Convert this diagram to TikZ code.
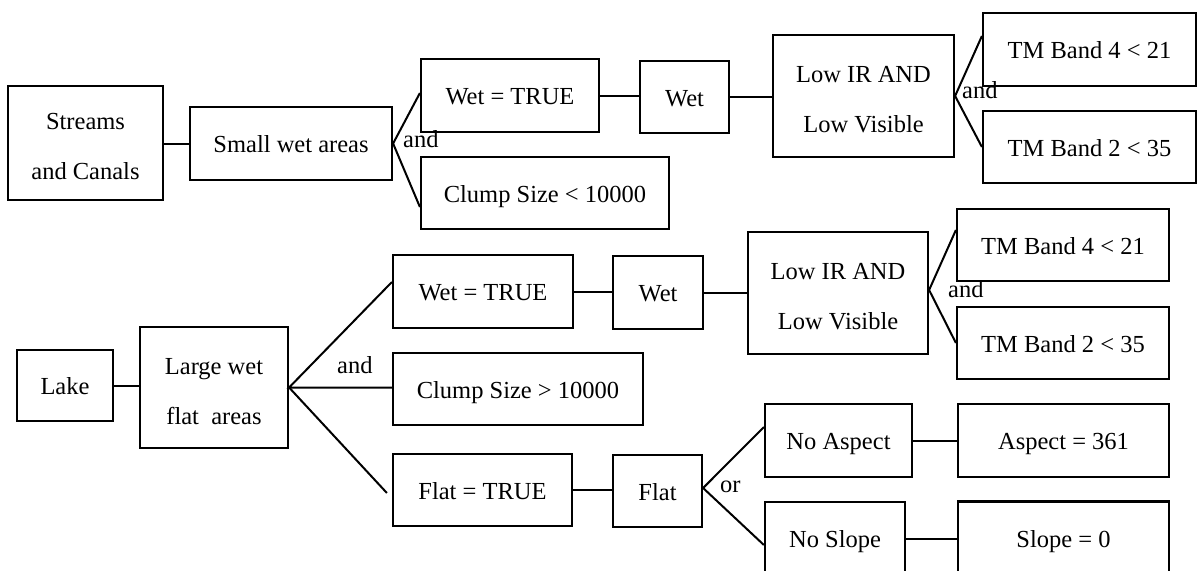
\documentclass[tikz,border=0pt]{standalone}
\usepackage{fontspec}
\setmainfont{Liberation Serif}
\begin{document}
\begin{tikzpicture}[x=1pt,y=-1pt,
  box/.style={draw, line width=2.2pt, inner sep=0pt, align=center,
    font=\fontsize{24.5pt}{50pt}\selectfont},
  onebox/.style={box, text height=18pt, text depth=0pt},
  link/.style={line width=2pt},
  conj/.style={inner sep=0pt, anchor=base west, font=\fontsize{24.5pt}{30pt}\selectfont}]
\newcommand{\toplift}{\rule{0pt}{24pt}}
\useasboundingbox (0,0) rectangle (1201,570);
\clip (0,0) rectangle (1201,570);
\fill[white] (0,0) rectangle (1201,570);

% --- upper tree: streams and canals ---
\node[box, minimum width=155pt, minimum height=114pt] (streams) at (85.5,143) {\toplift Streams\\and Canals};
\node[onebox, minimum width=202pt, minimum height=73pt] (small) at (291,143.5) {Small wet areas};
\node[onebox, minimum width=178pt, minimum height=73pt] (wetT1) at (510,95.5) {Wet = TRUE};
\node[onebox, minimum width=89pt, minimum height=72pt] (wet1) at (684.5,97) {Wet};
\node[box, minimum width=181pt, minimum height=122pt] (lowir1) at (863.5,96) {\toplift Low IR AND\\Low Visible};
\node[onebox, minimum width=213pt, minimum height=73pt] (tm4a) at (1089.5,49.5) {TM Band 4 < 21};
\node[onebox, minimum width=213pt, minimum height=72pt] (tm2a) at (1089.5,147) {TM Band 2 < 35};
\node[onebox, minimum width=248pt, minimum height=72pt] (clump1) at (545,193) {Clump Size < 10000};

% --- lower tree: lake ---
\node[onebox, minimum width=96pt, minimum height=71pt] (lake) at (65,385.5) {Lake};
\node[box, minimum width=148pt, minimum height=121pt] (large) at (214,387.5) {\toplift Large wet\\flat\ \ areas};
\node[onebox, minimum width=180pt, minimum height=73pt] (wetT2) at (483,291.5) {Wet = TRUE};
\node[onebox, minimum width=90pt, minimum height=73pt] (wet2) at (658,292.5) {Wet};
\node[box, minimum width=180pt, minimum height=122pt] (lowir2) at (838,293) {\toplift Low IR AND\\Low Visible};
\node[onebox, minimum width=212pt, minimum height=72pt] (tm4b) at (1063,245) {TM Band 4 < 21};
\node[onebox, minimum width=212pt, minimum height=72pt] (tm2b) at (1063,343) {TM Band 2 < 35};
\node[onebox, minimum width=250pt, minimum height=72pt] (clump2) at (518,389) {Clump Size > 10000};
\node[onebox, minimum width=179pt, minimum height=72pt] (flatT) at (482.5,490) {Flat = TRUE};
\node[onebox, minimum width=89pt, minimum height=72pt] (flat) at (657.5,491) {Flat};
\node[onebox, minimum width=147pt, minimum height=73pt] (noasp) at (838.5,440.5) {No Aspect};
\node[onebox, minimum width=211pt, minimum height=73pt] (asp) at (1063.5,440.5) {Aspect = 361};
\node[onebox, minimum width=140pt, minimum height=73pt] (noslope) at (835,538.5) {No Slope};
\node[onebox, minimum width=211pt, minimum height=73pt] (slope) at (1063.5,538) {Slope = 0};

% --- connectors ---
\draw[link] (streams.east |- small.west) -- (small.west);
\draw[link] ([yshift=2.5pt]wetT1.west) -- (small.east) -- ([yshift=-14pt]clump1.west);
\draw[link] (wetT1.east) -- (wetT1.east -| wet1.west);
\draw[link] (wet1.east) -- (wet1.east -| lowir1.west);
\draw[link] ([yshift=13.5pt]tm4a.west) -- (lowir1.east) -- (tm2a.west);

\draw[link] (lake.east) -- (lake.east -| large.west);
\draw[link] ([yshift=9.5pt]wetT2.west) -- (large.east) -- (large.east -| clump2.west);
\draw[link] (large.east) -- ([xshift=-5pt,yshift=-3pt]flatT.west);
\draw[link] (wetT2.east) -- (wetT2.east -| wet2.west);
\draw[link] (wet2.east) -- (wet2.east -| lowir2.west);
\draw[link] ([yshift=15pt]tm4b.west) -- ([yshift=3pt]lowir2.east) -- (tm2b.west);
\draw[link] (flatT.east) -- (flatT.east -| flat.west);
\draw[link] ([yshift=13.5pt]noasp.west) -- ([yshift=3pt]flat.east) -- ([yshift=-6.5pt]noslope.west);
\draw[link] (noasp.east) -- (noasp.east -| asp.west);
\draw[link] (noslope.east) -- (noslope.east -| slope.west);

% --- conjunction labels ---
\node[conj] (and1) at (403,147) {and};
\node[conj] (and2) at (962,98) {and};
\node[conj] (and3) at (948,297) {and};
\node[conj] (and4) at (337,373) {and};
\node[conj] (or1) at (720,492) {or};
\end{tikzpicture}
\end{document}
